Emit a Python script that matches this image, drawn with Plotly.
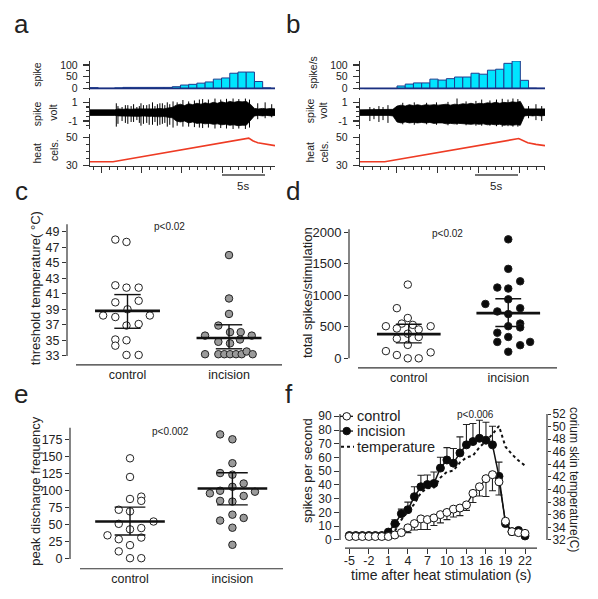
import plotly.graph_objects as go

W, H = 598, 599
FONT = "Arial, Liberation Sans, sans-serif"
INK = "#222222"
AX = "#333333"

# ---------------- data: panels a / b ----------------
bins_a = [0.5, 1.5, 2.5, 3.5, 4.5, 5.5, 6.5, 7.5, 8.5, 9.5, 10.5, 11.5, 12.5, 13.5, 14.5,
          15.5, 16.5, 17.5, 18.5, 19.5, 20.5, 21.5, 22.5]
hist_a = [4, 1, 1, 3, 5, 5, 5, 5, 5, 5, 8, 15, 18, 23, 28, 40, 45, 65, 70, 70, 30, 3, 1]
bins_b = [1, 2, 3, 4, 5, 6, 7, 8, 9, 10, 11, 12, 13, 14, 15, 16, 17, 18, 19, 20, 21, 22]
hist_b = [0, 0, 0, 0, 11, 19, 24, 24, 40, 36, 42, 49, 49, 65, 61, 78, 82, 107, 117, 35, 2, 1]

volt_t = [0, 0.5, 1, 1.5, 2, 2.5, 3, 3.5, 4, 4.5, 5, 5.5, 6, 6.5, 7, 7.5, 8, 8.5, 9, 9.5,
          10, 10.5, 11, 11.5, 12, 12.5, 13, 13.5, 14, 14.5, 15, 15.5, 16, 16.5, 17, 17.5,
          18, 18.5, 19, 19.5, 20, 20.5, 21, 21.5, 22, 22.5]
volt_a_hi = [.2, .2, .2, .2, .2, .2, .2, .3, .25, .3, .25, .3, .3, .25, .3, .3, .3, .35, .3, .4,
             .45, .7, .8, .65, .85, .75, .9, .8, .95, .85, 1.0, .9, 1.05, .95, 1.1, 1.0,
             1.1, 1.05, 1.1, .8, .35, .3, .35, .3, .35, .3]
volt_a_lo = [-.4, -.4, -.4, -.4, -.4, -.4, -.4, -.45, -.45, -.5, -.45, -.5, -.5, -.45, -.5, -.5,
             -.5, -.55, -.5, -.6, -.65, -1.0, -1.1, -1.0, -1.2, -1.1, -1.25, -1.2, -1.3, -1.25,
             -1.35, -1.3, -1.4, -1.35, -1.45, -1.4, -1.5, -1.45, -1.45, -1.0, -.45, -.4, -.45, -.4,
             -.45, -.4]
volt_b_hi = [.2, .2, .2, .2, .2, .2, .2, .2, .25, .6, .7, .6, .75, .65, .75, .65, .75, .7, .75,
             .7, .75, .8, .7, .8, .75, .85, .8, .9, .8, .9, .85, .95, .9, 1.0, .9, 1.0,
             .95, 1.05, 1.0, 1.1, .3, .3, .3, .3, .3, .3]
volt_b_lo = [-.4, -.4, -.4, -.4, -.4, -.4, -.4, -.4, -.45, -1.1, -1.2, -1.1, -1.2, -1.15, -1.2,
             -1.15, -1.2, -1.15, -1.25, -1.2, -1.2, -1.3, -1.25, -1.3, -1.25, -1.3, -1.3, -1.35,
             -1.3, -1.35, -1.3, -1.4, -1.35, -1.4, -1.35, -1.45, -1.4, -1.45, -1.4, -1.45, -.45,
             -.4, -.45, -.4, -.45, -.4]

spike_a_t = [3.2, 3.4, 3.9, 4.3, 4.6, 5.0, 5.3, 5.7, 6.0, 6.2, 6.5, 6.9, 7.2, 7.6, 7.9, 8.2, 8.5,
             8.8, 9.1, 9.4, 9.7, 10.1, 10.6, 11.3, 12.0, 12.7, 13.3, 13.7, 14.4, 15.2, 15.9,
             16.6, 17.4, 18.1, 18.9, 19.4, 20.4, 21.3, 22.1]
spike_a_hi = [0.9, 0.6, 0.5, 0.7, 0.7, 0.6, 0.8, 0.5, 0.6, 0.9, 0.7, 0.7, 0.8, 1.0, 0.6, 0.8, 0.9,
              0.9, 0.7, 1.0, 0.8, 1.1, 1.0, 1.25, 1.1, 1.2, 1.3, 1.35, 1.3, 1.45, 1.3, 1.4, 1.5,
              1.35, 1.45, 1.3, 0.9, 1.0, 0.8]
spike_a_lo = [-1.6, -1.3, -1.0, -1.2, -1.3, -1.1, -1.1, -0.9, -1.2, -1.5, -1.3, -1.2, -1.4, -1.4,
              -1.1, -1.5, -1.4, -1.3, -1.2, -1.6, -1.4, -1.7, -1.5, -1.6, -1.6, -1.65, -1.7,
              -1.75, -1.7, -1.8, -1.75, -1.8, -1.85, -1.8, -1.85, -1.7, -0.8, -0.7, -0.6]
spike_b_t = [1.2, 1.7, 2.3, 2.8, 3.4, 5.2, 6.6, 8.1, 9.3, 10.7, 11.8, 12.9, 14.1, 14.8, 15.8,
             16.6, 17.3, 18.0, 18.6, 19.2, 20.5, 21.4, 22.1]
spike_b_hi = [0.5, 0.4, 0.6, 0.5, 0.7, 0.95, 1.0, 0.95, 1.0, 1.05, 1.55, 1.1, 1.15, 1.3, 1.2,
              1.3, 1.4, 1.3, 1.6, 1.35, 0.6, 0.8, 0.6]
spike_b_lo = [-1.0, -0.8, -1.1, -0.9, -1.2, -1.35, -1.4, -1.35, -1.4, -1.45, -1.4, -1.45, -1.5,
              -1.5, -1.5, -1.55, -1.6, -1.55, -1.6, -1.6, -0.7, -0.9, -1.0]

heat_a_t = [0, 2.8, 19.3, 19.8, 20.4, 21.4, 22.5]
heat_a = [32.6, 32.6, 49.7, 47.8, 46.4, 45.2, 44.3]
heat_b_t = [0, 3.0, 19.3, 19.8, 20.4, 21.4, 22.5]
heat_b = [32.6, 32.6, 49.4, 47.8, 46.4, 45.2, 44.3]

ticks_a = [1.42, 6.3, 11.18, 16.06, 20.94]
ticks_b = [4.46, 9.45, 14.44, 19.43]

# ---------------- data: panels c / d / e ----------------
groups = ["control", "incision"]

c_ctrl = [48.0, 47.7, 42.1, 41.8, 41.8, 39.9, 40.1, 39.0, 38.2, 38.0, 38.2, 36.9, 37.1, 35.1, 35.0, 34.3, 33.1, 33.1]
c_ctrl_off = [-0.12, -0.01, -0.12, -0.01, 0.11, -0.12, 0.11, 0.0, -0.24, -0.12, 0.22, -0.01, 0.11, -0.12, -0.01, -0.12, -0.01, 0.11]
c_inc = [46.0, 40.4, 38.4, 36.9, 36.05, 36.05, 35.6, 35.6, 35.1, 34.8, 34.6, 33.2, 33.2, 33.2, 33.2, 33.2, 33.2, 33.55, 33.2]
c_inc_off = [0.0, 0.0, 0.0, -0.105, 0.01, 0.115, -0.236, 0.224, 0.108, -0.105, 0.01, -0.236, -0.105, -0.046, 0.01, 0.069, 0.125, 0.174, 0.233]
c_mean = [38.8, 35.3]
c_hi = [40.9, 37.0]
c_lo = [36.55, 33.9]

d_ctrl = [1169, 795, 639, 509, 551, 530, 509, 473, 457, 390, 338, 312, 213, 114, 94, 52, 0, 0]
d_ctrl_off = [-0.01, -0.12, -0.01, -0.23, -0.07, 0.04, 0.22, -0.12, 0.10, -0.01, 0.10, -0.12, -0.01, -0.23, 0.22, -0.12, -0.01, 0.10]
d_inc = [1886, 1418, 1221, 1122, 1106, 862, 935, 795, 743, 701, 509, 551, 490, 405, 338, 260, 208, 260, 104]
d_inc_off = [0, 0, 0.12, -0.11, 0, -0.23, 0, 0.12, -0.11, 0, 0, 0.12, 0.12, -0.11, 0, -0.11, 0.12, 0.22, 0]
d_mean = [384, 717]
d_hi = [540, 945]
d_lo = [244, 504]

e_ctrl = [147.2, 119.9, 87.7, 91.1, 84.9, 71.9, 69.5, 51.3, 54.7, 43.2, 45.1, 34.5, 28.8, 31.2, 20.1, 11.0, 1.0, 1.0]
e_ctrl_off = [0, 0, 0, 0.11, 0.11, -0.11, 0, -0.11, 0.23, 0, 0.11, -0.22, -0.11, 0.11, 0, -0.11, 0, 0.11]
e_inc = [182.2, 175, 140, 125.6, 123.2, 110.3, 95.9, 99.7, 105.5, 98.3, 92.1, 84.9, 83.9, 64.7, 59.9, 56.1, 45.6, 20.6]
e_inc_off = [-0.12, 0, 0, -0.12, 0, 0.11, -0.22, -0.12, 0, 0.22, 0.11, -0.12, 0, 0, 0.11, -0.12, 0, 0]
e_mean = [54.7, 103.1]
e_hi = [75.8, 126.1]
e_lo = [35.0, 79.1]

# ---------------- data: panel f ----------------
f_time = [-5, -4, -3, -2, -1, 0, 1, 2, 3, 4, 5, 6, 7, 8, 9, 10, 11, 12, 13, 14, 15, 16, 17, 18, 19, 20, 21, 22]
f_control = [2.5, 2.5, 2.5, 2.5, 2.5, 2.5, 2.5, 3.6, 5.3, 8.8, 11.9, 15.3, 14.8, 16.0, 18.4, 20.0, 22.4,
             23.2, 25.5, 33.9, 38.7, 44.6, 47.5, 42.3, 13.6, 6.0, 5.3, 4.8]
f_control_err = [0.5, 0.5, 0.5, 0.5, 0.5, 0.5, 0.5, 1.0, 2.0, 3.5, 4.7, 7.7, 7.2, 5.5, 6.0, 5.2, 5.7,
                 5.5, 4.0, 6.7, 6.7, 13.0, 11.7, 9.6, 1.5, 1.0, 1.0, 1.0]
f_incision = [3.2, 3.2, 3.2, 3.2, 3.2, 3.2, 5.7, 11.7, 19.1, 22.0, 31.5, 38.7, 40.3, 41.1, 52.3, 58.2,
              55.9, 63.3, 69.2, 71.6, 74.0, 72.6, 69.2, 46.3, 11.9, 6.0, 6.9, 2.9]
f_incision_err = [0.5, 0.5, 0.5, 0.5, 0.5, 0.5, 0.5, 3.0, 3.3, 5.5, 7.2, 8.4, 7.0, 8.4, 7.9, 9.0, 10.7,
                  11.7, 14.8, 13.1, 13.1, 13.1, 13.6, 10.3, 1.0, 0.5, 0.5, 0.5]
f_temperature = [32.5, 32.5, 32.5, 32.5, 32.5, 32.5, 32.5, 33.4, 35.2, 36.5, 37.7, 39.5, 40.2, 40.3, 41.9,
                 42.8, 43.0, 44.3, 45.1, 45.4, 46.7, 47.7, 48.8, 50.1, 46.8, 45.6, 44.6, 43.8]
f_xticks = [-5, -2, 1, 4, 7, 10, 13, 16, 19, 22]
f_xtick_text = ["-5", "-2", "1", "4", "7", "10", "13", "16", "19", "22"]


# ---------------- helpers ----------------
def xd(x0, x1):
    return [x0 / W, x1 / W]


def yd(top, bottom):
    return [1 - bottom / H, 1 - top / H]


def px(x):
    return x / W


def py(y):
    return 1 - y / H


shapes = []
annotations = []


def hline(x0, x1, y, color=AX, width=1.2, dash=None):
    ln = dict(color=color, width=width)
    if dash:
        ln["dash"] = dash
    shapes.append(dict(type="line", xref="paper", yref="paper", x0=px(x0), x1=px(x1), y0=py(y), y1=py(y), line=ln))


def vline(x, y0, y1, color=AX, width=1.2):
    shapes.append(dict(type="line", xref="paper", yref="paper", x0=px(x), x1=px(x), y0=py(y0), y1=py(y1),
                       line=dict(color=color, width=width)))


def ann(text, x, y, size, angle=0, xanchor="center", yanchor="middle", color=INK):
    annotations.append(dict(text=text, x=px(x), y=py(y), xref="paper", yref="paper", showarrow=False,
                            textangle=angle, xanchor=xanchor, yanchor=yanchor,
                            font=dict(size=size, family=FONT, color=color)))


fig = go.Figure()

# ---------------- panels a, b ----------------
def trace_panel(n0, bins, hist, vhi, vlo, st, shi, slo, ht, hv):
    xa = lambda k: "x" if n0 + k == 1 else "x%d" % (n0 + k)
    ya = lambda k: "y" if n0 + k == 1 else "y%d" % (n0 + k)
    fig.add_trace(go.Bar(x=bins, y=hist, width=1, marker=dict(color="#00e5ff", line=dict(color="#1f3c8f", width=1)),
                         xaxis=xa(0), yaxis=ya(0)))
    fig.add_trace(go.Scatter(x=volt_t + volt_t[::-1], y=vhi + vlo[::-1], fill="toself", fillcolor="black",
                             mode="lines", line=dict(color="black", width=0.8), xaxis=xa(1), yaxis=ya(1)))
    sx, sy = [], []
    for t, a, b in zip(st, shi, slo):
        sx += [t, t, None]
        sy += [a, b, None]
    fig.add_trace(go.Scatter(x=sx, y=sy, mode="lines", line=dict(color="black", width=1), xaxis=xa(1), yaxis=ya(1)))
    fig.add_trace(go.Scatter(x=ht, y=hv, mode="lines", line=dict(color="#ee3b24", width=1.6), xaxis=xa(2), yaxis=ya(2)))


trace_panel(1, bins_a, hist_a, volt_a_hi, volt_a_lo, spike_a_t, spike_a_hi, spike_a_lo, heat_a_t, heat_a)
trace_panel(4, bins_b, hist_b, volt_b_hi, volt_b_lo, spike_b_t, spike_b_hi, spike_b_lo, heat_b_t, heat_b)


# ---------------- panels c, d, e ----------------
def swarm(n, vals_c, off_c, vals_i, off_i, fill_i, means, his, los, half=0.32, cap=0.13):
    xa, ya = "x%d" % n, "y%d" % n
    fig.add_trace(go.Scatter(x=[0 + o for o in off_c], y=vals_c, mode="markers", cliponaxis=False,
                             marker=dict(size=7.5, color="white", line=dict(color="#222", width=1)),
                             xaxis=xa, yaxis=ya))
    fig.add_trace(go.Scatter(x=[1 + o for o in off_i], y=vals_i, mode="markers", cliponaxis=False,
                             marker=dict(size=7.5, color=fill_i, line=dict(color="#222", width=1)),
                             xaxis=xa, yaxis=ya))
    mx, my, ex, ey = [], [], [], []
    for g, (m, h, l) in enumerate(zip(means, his, los)):
        mx += [g - half, g + half, None]
        my += [m, m, None]
        ex += [g, g, None, g - cap, g + cap, None, g - cap, g + cap, None]
        ey += [l, h, None, h, h, None, l, l, None]
    fig.add_trace(go.Scatter(x=ex, y=ey, mode="lines", line=dict(color="#111", width=1.4), xaxis=xa, yaxis=ya))
    fig.add_trace(go.Scatter(x=mx, y=my, mode="lines", line=dict(color="#111", width=2.6), xaxis=xa, yaxis=ya))


swarm(7, c_ctrl, c_ctrl_off, c_inc, c_inc_off, "#9a9a9a", c_mean, c_hi, c_lo)
swarm(8, d_ctrl, d_ctrl_off, d_inc, d_inc_off, "#0a0a0a", d_mean, d_hi, d_lo)
swarm(9, e_ctrl, e_ctrl_off, e_inc, e_inc_off, "#9a9a9a", e_mean, e_hi, e_lo, half=0.34, cap=0.15)

# ---------------- panel f ----------------
fig.add_trace(go.Scatter(x=f_time, y=f_temperature, mode="lines", line=dict(color="#111", width=2, dash="dot"),
                         xaxis="x10", yaxis="y10", name="temperature"))
fig.add_trace(go.Scatter(x=f_time, y=f_incision, mode="lines+markers", name="incision",
                         line=dict(color="#111", width=1.5),
                         marker=dict(size=8, color="#0a0a0a", line=dict(color="#111", width=1)),
                         error_y=dict(type="data", array=f_incision_err, arrayminus=[0] * len(f_incision_err),
                                      symmetric=False, color="#222", thickness=1.1, width=3.5),
                         xaxis="x10", yaxis="y11"))
fig.add_trace(go.Scatter(x=f_time, y=f_control, mode="lines+markers", name="control",
                         line=dict(color="#111", width=1.2),
                         marker=dict(size=8, color="white", line=dict(color="#111", width=1)),
                         error_y=dict(type="data", array=[0] * len(f_control_err), arrayminus=f_control_err,
                                      symmetric=False, color="#222", thickness=1.1, width=3.5),
                         xaxis="x10", yaxis="y11"))

# ---------------- axes ----------------
def hidden_x(dom, rng, anchor):
    return dict(domain=dom, range=rng, anchor=anchor, showline=False, showticklabels=False, ticks="",
                showgrid=False, zeroline=False, fixedrange=True)


def trace_y(dom, rng, anchor, tv, minor_dtick, minor_tick0, tt=None):
    d = dict(domain=dom, range=rng, anchor=anchor, showline=True, linecolor=AX, linewidth=1.2,
             ticks="outside", ticklen=6, tickcolor=AX, tickwidth=1.1, tickvals=tv,
             tickfont=dict(size=10.5, color=INK), showgrid=False, zeroline=False, ticklabelstandoff=3,
             minor=dict(ticks="outside", ticklen=3, tickcolor=AX, dtick=minor_dtick, tick0=minor_tick0,
                        showgrid=False))
    if tt:
        d["ticktext"] = tt
    return d


def heat_x(dom, anchor, tv):
    spacing = tv[1] - tv[0]
    return dict(domain=dom, range=[0, 22.5], anchor=anchor, showline=True, linecolor=AX, linewidth=1.2,
                ticks="outside", ticklen=6, tickcolor=AX, tickvals=tv, showticklabels=False,
                showgrid=False, zeroline=False,
                minor=dict(ticks="outside", ticklen=3, tickcolor=AX, tick0=tv[0], dtick=spacing / 5,
                           showgrid=False))


layout = dict(width=W, height=H, margin=dict(l=0, r=0, t=0, b=0), paper_bgcolor="white",
              plot_bgcolor="rgba(0,0,0,0)", showlegend=False, bargap=0,
              font=dict(family=FONT, color=INK))

for base, (xl, xr), tv in [(1, (90, 275), ticks_a), (4, (360, 545), ticks_b)]:
    def key(prefix, k):
        n = base + k
        return prefix if n == 1 else "%s%d" % (prefix, n)

    def ref(prefix, k):
        n = base + k
        return prefix if n == 1 else "%s%d" % (prefix, n)

    dom = xd(xl, xr)
    layout[key("xaxis", 0)] = hidden_x(dom, [0, 22.5], ref("y", 0))
    layout[key("xaxis", 1)] = hidden_x(dom, [0, 22.5], ref("y", 1))
    layout[key("xaxis", 2)] = heat_x(dom, ref("y", 2), tv)
    layout[key("yaxis", 0)] = trace_y(yd(57, 86), [-4.2, 116.7], ref("x", 0), [0, 50, 100], 25, 0)
    layout[key("yaxis", 1)] = trace_y(yd(95, 126), [-1.84, 1.42], ref("x", 1), [-1, 1], 0.5, 0, ["-1", "1"])
    layout[key("yaxis", 2)] = trace_y(yd(131, 164), [29.29, 52.86], ref("x", 2), [30, 50], 5, 30)
    # dark baseline of the histogram
    shapes.append(dict(type="line", xref=ref("x", 0), yref=ref("y", 0), x0=0, x1=22.5, y0=0, y1=0,
                       line=dict(color="#1a2f80", width=2)))


def cat_x(dom, rng, anchor, size):
    return dict(domain=dom, range=rng, anchor=anchor, tickvals=[0, 1], ticktext=groups, ticks="",
                showline=False, showgrid=False, zeroline=False, tickfont=dict(size=size, color=INK),
                ticklabelstandoff=1)


def val_y(dom, rng, anchor, tv, size):
    return dict(domain=dom, range=rng, anchor=anchor, tickvals=tv, ticks="outside", ticklen=4,
                tickcolor=AX, tickwidth=1.1, showline=False, showgrid=False, zeroline=False,
                tickfont=dict(size=size, color=INK))


layout["xaxis7"] = cat_x(xd(67, 282), [-0.596, 1.522], "y7", 12.5)
layout["yaxis7"] = val_y(yd(223, 366), [31.82, 49.98], "x7", [33, 35, 37, 39, 41, 43, 45, 47, 49], 12.5)
layout["xaxis8"] = cat_x(xd(349, 557), [-0.601, 1.49], "y8", 12.5)
layout["yaxis8"] = val_y(yd(228, 369), [-151, 2047], "x8", [0, 500, 1000, 1500, 2000], 13)
layout["xaxis9"] = cat_x(xd(70, 283), [-0.586, 1.494], "y9", 12.5)
layout["yaxis9"] = val_y(yd(430, 573.3), [-14.4, 191.8], "x9", [0, 25, 50, 75, 100, 125, 150, 175], 12.5)

layout["xaxis10"] = dict(domain=xd(340, 547), range=[-6.43, 25.38], anchor="y10", tickvals=f_xticks,
                         ticktext=f_xtick_text,
                         ticks="outside", ticklen=5, tickcolor=AX, showline=False, showgrid=False,
                         zeroline=False, tickfont=dict(size=12.5, color=INK), ticklabelstandoff=-4)
layout["yaxis10"] = dict(domain=yd(414, 552.3), range=[30.70, 52.31], anchor="x10", side="right",
                         tickvals=[32, 34, 36, 38, 40, 42, 44, 46, 48, 50, 52], ticks="outside", ticklen=3,
                         tickcolor=AX, showline=False, showgrid=False, zeroline=False,
                         tickfont=dict(size=12, color=INK), ticklabelstandoff=-1)
layout["yaxis11"] = dict(range=[-5.94, 93.06], anchor="x10", overlaying="y10", side="left",
                         tickvals=[0, 10, 20, 30, 40, 50, 60, 70, 80, 90], ticks="outside", ticklen=5,
                         tickcolor=AX, showline=False, showgrid=False, zeroline=False,
                         tickfont=dict(size=12, color=INK))

# spines of c, d, e, f
vline(67, 223, 357); hline(76, 282, 366)
vline(349, 228, 359.3); hline(358, 557, 369)
vline(70, 430, 563.3); hline(80, 283, 573.3)
vline(340, 416, 544); vline(547, 416, 544); hline(345, 537, 552.3)

# scale bars
hline(222, 265, 173, color="#444", width=1.5)
hline(475, 518, 173, color="#444", width=1.5)
ann("5s", 243, 184, 11.5)
ann("5s", 496, 184, 11.5)

# panel letters
for letter, x, y in [("a", 21, 19), ("b", 293, 19), ("c", 21, 189), ("d", 293, 189), ("e", 21, 396), ("f", 289, 396)]:
    ann(letter, x, y, 26)

# axis titles a/b
ann("spike", 37, 71, 10.5, -90)
ann("spike", 37, 111, 10.5, -90)
ann("volt", 53.5, 110, 10.5, -90)
ann("heat", 37, 151, 10.5, -90)
ann("cels.", 53.5, 148, 10.5, -90)
ann("spike/s", 313, 69, 10.5, -90)
ann("spike", 310, 108, 10.5, -90)
ann("volt", 323.5, 108, 10.5, -90)
ann("heat", 310, 150, 10.5, -90)
ann("cels.", 324, 149, 10.5, -90)

# axis titles c-f
ann("threshold temperature( °C)", 35, 288, 13, -90)
ann("total spikes/stimulation", 307, 293, 13, -90)
ann("peak discharge frequency", 36, 495, 13, -90)
ann("spikes per second", 307, 474, 13, -90)
ann("corium skin temperature(C)", 574, 482, 12, 90)
ann("time after heat stimulation (s)", 442, 580, 14)

# p values
ann("p<0.02", 169, 225, 10)
ann("p<0.02", 448, 232, 10)
ann("p<0.002", 170, 434, 10)
ann("p<0.006", 475, 416, 10)

# legend of f
for row, label in [(418.3, "control"), (433.3, "incision"), (449.3, "temperature")]:
    if label == "temperature":
        hline(341, 354, row, color="#111", width=2, dash="dot")
    else:
        hline(340, 353, row, color="#111", width=1.3)
        fill = "white" if label == "control" else "#0a0a0a"
        r = 3.8
        shapes.append(dict(type="circle", xref="paper", yref="paper", x0=px(346.7 - r), x1=px(346.7 + r),
                           y0=py(row + r), y1=py(row - r), fillcolor=fill, line=dict(color="#111", width=1)))
    ann(label, 355, row, 14.5, xanchor="left")

layout["shapes"] = shapes
layout["annotations"] = annotations
fig.update_layout(**layout)
fig.write_html("out.html", config={"displayModeBar": False, "staticPlot": True},
               post_script="document.body.style.margin='0px';document.body.style.overflow='hidden';")
